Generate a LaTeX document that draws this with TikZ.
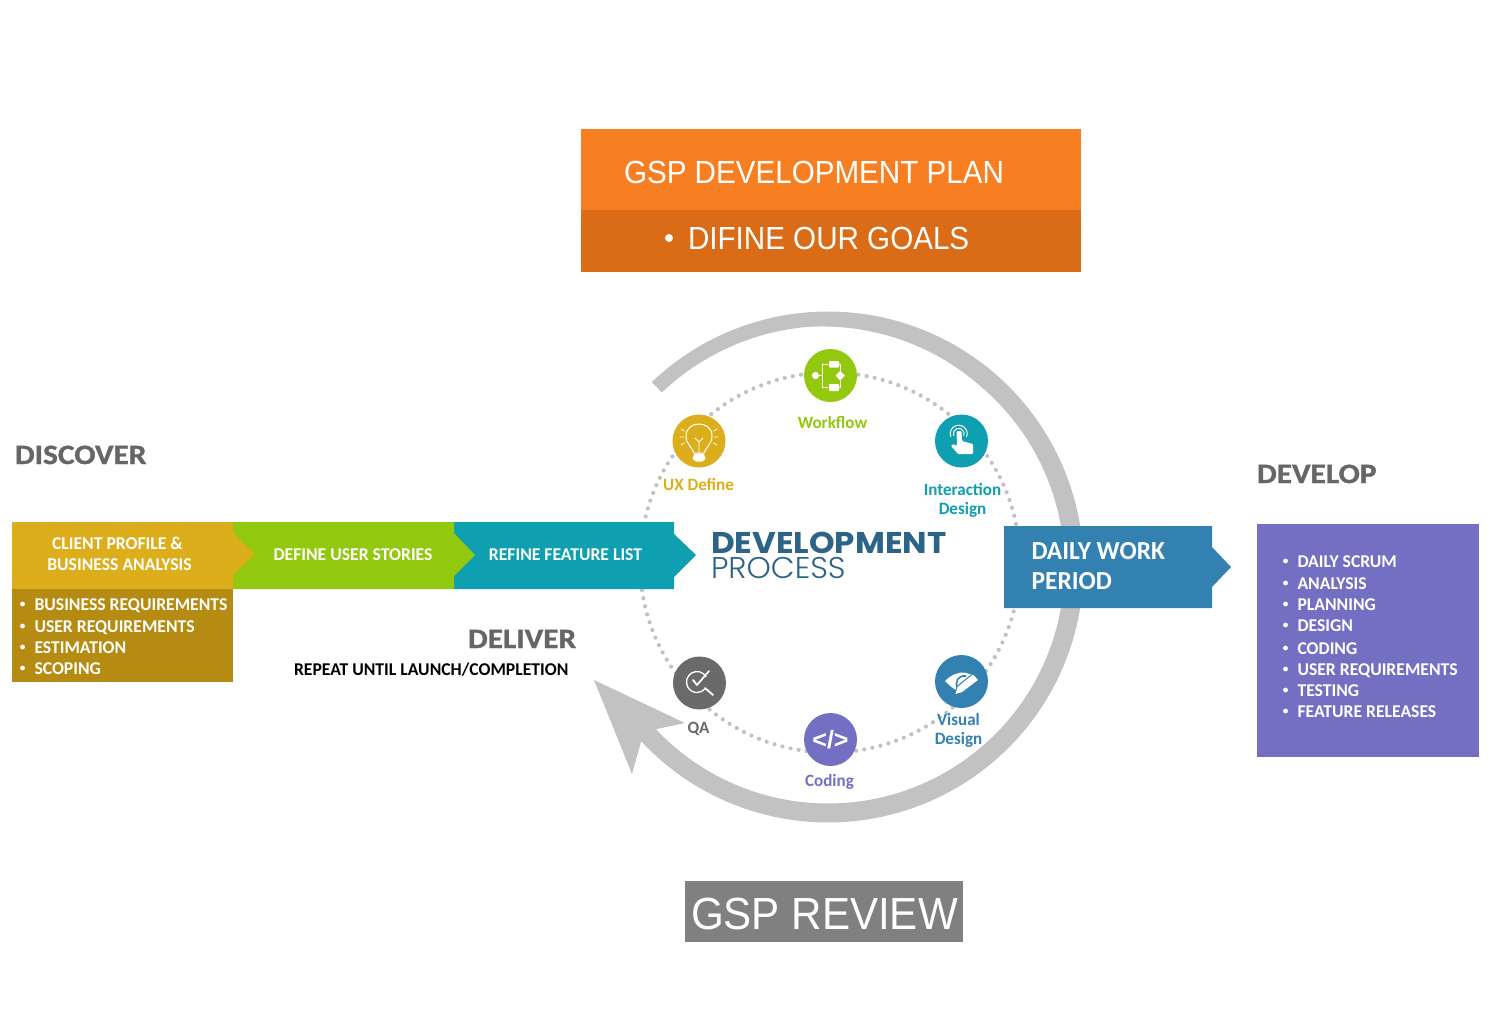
\documentclass[tikz,border=0pt]{standalone}
\usepackage{fontspec}
\setmainfont{Carlito}[BoldFeatures={FakeStretch=0.98}]
\newfontfamily\arl{Liberation Sans}[FakeStretch=0.925]
\newfontfamily\arr{Liberation Sans}[FakeStretch=0.936]
\newfontfamily\arb{Liberation Sans}[BoldFeatures={FakeStretch=1.0}]
\newfontfamily\headf{Carlito}[BoldFeatures={FakeBold=1.2,FakeStretch=1.12}]
\newfontfamily\lblf{Carlito}[BoldFeatures={FakeStretch=0.985}]
\newfontfamily\devf{Poppins}[BoldFeatures={FakeStretch=1.086}]
\newfontfamily\procf{Poppins}[UprightFont=* Light,FakeStretch=1.03]
\usetikzlibrary{shapes.geometric}
\definecolor{cgold}{HTML}{DDAE1C}
\definecolor{cgoldd}{HTML}{B58C11}
\definecolor{cgreen}{HTML}{92C90E}
\definecolor{cteal}{HTML}{0E9FB1}
\definecolor{cblue}{HTML}{3281B1}
\definecolor{cpurple}{HTML}{7370C3}
\definecolor{cgray}{HTML}{6A6A6A}
\definecolor{corange}{HTML}{F77F21}
\definecolor{corangd}{HTML}{DA6B17}
\definecolor{crev}{HTML}{808080}
\definecolor{carc}{HTML}{C2C2C2}
\definecolor{cnavy}{HTML}{2C6487}
\definecolor{chead}{HTML}{666666}
\tikzset{
  base/.style={inner sep=0pt,outer sep=0pt,anchor=base},
  basew/.style={inner sep=0pt,outer sep=0pt,anchor=base west},
  wlab/.style={base,text=white,font=\fontsize{18}{18}\selectfont\bfseries},
  wlabw/.style={basew,text=white,font=\fontsize{18}{18}\selectfont\bfseries},
  ring/.style={circle,minimum size=53pt,inner sep=0pt},
  clab/.style={base,font=\lblf\fontsize{17.3}{17.3}\selectfont\bfseries},
  headt/.style={basew,text=chead,font=\headf\fontsize{28}{28}\selectfont\bfseries},
  ico/.style={draw=white,line width=1.2pt,fill=none,line cap=round,line join=round},
}
\newcommand{\blt}[5]{% name, bullet x, text x, y baseline, text
  \fill[white] (#2,#4-6) circle (2.4);
  \node[wlabw] (#1) at (#3,#4) {#5};}
\begin{document}
\begin{tikzpicture}[x=1pt,y=-1pt]
\useasboundingbox (0,0) rectangle (1490,1012);
\fill[white] (0,0) rectangle (1490,1012);
% dotted ring
\draw[carc,line width=4.2pt,line cap=round,dash pattern=on 0pt off 8.25pt] (830,562.5) circle (190);
% big arrow arc
\fill[carc] plot[domain=133.6:-137,samples=160] ({828+255.5*cos(\x)},{567-255.5*sin(\x)})
  -- (632,774) -- (594,680) -- (685,723) -- (652,730)
  -- plot[domain=-137:133.6,samples=160] ({828+(236.5+4.5*min(1,max(0,(\x-50)/45)))*cos(\x)},{567-(236.5+4.5*min(1,max(0,(\x-50)/45)))*sin(\x)}) -- cycle;
% top plan
\fill[corange] (581,129) rectangle (1081,210);
\fill[corangd] (581,210) rectangle (1081,272);
\node[basew,text=white,font=\arl\fontsize{32}{32}\selectfont] (plan) at (624,183) {GSP DEVELOPMENT PLAN};
\fill[white] (669,238) circle (4);
\node[basew,text=white,font=\arl\fontsize{32}{32}\selectfont] (goals) at (688,249) {DIFINE OUR GOALS};
% review
\fill[crev] (685,881) rectangle (963,942);
\node[basew,text=white,font=\arr\fontsize{45}{45}\selectfont] (review) at (691,929) {GSP REVIEW};
% chevrons
\fill[cteal] (454,522) -- (674,522) -- (674,534) -- (696,555) -- (674,577) -- (674,589) -- (454,589) -- cycle;
\fill[cgreen] (233,522) -- (454,522) -- (454,533) -- (475,555) -- (454,576) -- (454,589) -- (233,589) -- cycle;
\fill[cgold] (12,522) -- (233,522) -- (233,533) -- (255,554) -- (233,575) -- (233,589) -- (12,589) -- cycle;
\fill[cgoldd] (12,589) rectangle (233,682);
\node[wlab] (client) at (117.5,549) {CLIENT PROFILE \&};
\node[wlab] (busan) at (119.5,570) {BUSINESS ANALYSIS};
\node[wlab] (stories) at (353,560) {DEFINE USER STORIES};
\node[wlab] (refine) at (565.5,560) {REFINE FEATURE LIST};
\blt{l1}{22.5}{34.5}{610}{BUSINESS REQUIREMENTS}
\blt{l2}{22.5}{34.5}{632}{USER REQUIREMENTS}
\blt{l3}{22.5}{34.5}{653}{ESTIMATION}
\blt{l4}{22.5}{34.5}{674}{SCOPING}
% headings
\node[headt] (discover) at (15,464) {DISCOVER};
\node[headt] (develop) at (1257,483) {DEVELOP};
\node[headt] (deliver) at (468,648) {DELIVER};
\node[basew,text=black,font=\fontsize{18}{18}\selectfont\bfseries] (repeat) at (294,675) {REPEAT UNTIL LAUNCH/COMPLETION};
% centre title
\node[basew,text=cnavy,font=\devf\fontsize{30}{30}\selectfont\bfseries] (devt) at (711,553) {DEVELOPMENT};
\node[basew,text=cnavy,font=\procf\fontsize{30}{30}\selectfont] (proc) at (711,578) {PROCESS};
% daily work
\fill[cblue] (1004,526) -- (1212,526) -- (1212,547) -- (1231,567) -- (1212,587) -- (1212,608) -- (1004,608) -- cycle;
\node[basew,text=white,font=\fontsize{26}{26}\selectfont\bfseries] (daily) at (1031.5,559) {DAILY WORK};
\node[basew,text=white,font=\fontsize{26}{26}\selectfont\bfseries] (period) at (1031.5,589) {PERIOD};
% develop list
\fill[cpurple] (1257,524) rectangle (1479,757);
\blt{d1}{1285.5}{1297.5}{567}{DAILY SCRUM}
\blt{d2}{1285.5}{1297.5}{589}{ANALYSIS}
\blt{d3}{1285.5}{1297.5}{610}{PLANNING}
\blt{d4}{1285.5}{1297.5}{631}{DESIGN}
\blt{d5}{1285.5}{1297.5}{654}{CODING}
\blt{d6}{1285.5}{1297.5}{675}{USER REQUIREMENTS}
\blt{d7}{1285.5}{1297.5}{696}{TESTING}
\blt{d8}{1285.5}{1297.5}{717}{FEATURE RELEASES}
% rings
\node[ring,fill=cgreen] (wf) at (830.5,375.5) {};
\node[ring,fill=cgold] (ux) at (699,441) {};
\node[ring,fill=cteal] (ix) at (961.5,441) {};
\node[ring,fill=cgray] (qa) at (699.5,683) {};
\node[ring,fill=cpurple] (cd) at (830.5,739.5) {};
\node[ring,fill=cblue] (vd) at (961.5,681.5) {};
% ring labels
\node[clab,text=cgreen] (wfl) at (832.5,428) {Workflow};
\node[clab,text=cgold] (uxl) at (698.5,490) {UX Define};
\node[clab,text=cteal] (ixl) at (962.5,495) {Interaction};
\node[clab,text=cteal] (ixl2) at (962.5,514.5) {Design};
\node[clab,text=cgray] (qal) at (698.5,733) {QA};
\node[clab,text=cpurple] (cdl) at (829.5,786) {Coding};
\node[clab,text=cblue] (vdl) at (958.5,725) {Visual};
\node[clab,text=cblue] (vdl2) at (958.5,744.5) {Design};
% workflow icon
\fill[white] (815.5,375.5) circle (3.6);
\draw[ico,line width=.8pt] (819,375.5) -- (822,375.5) (822,364) -- (822,387) (822,364) -- (828,364) (822,387) -- (828,387) (838,364) -- (840,364) -- (840,371) (838,387) -- (840,387) -- (840,381);
\fill[white,rounded corners=.8pt] (829,361) rectangle (839,367.5) (829,384) rectangle (839,391);
\fill[white] (840,371) -- (845,375.5) -- (840,380.5) -- (835.5,375.5) -- cycle;
% bulb icon
\draw[ico,line width=1pt] (694,453) .. controls (692,447) and (686,444) .. (686,436) .. controls (686,420) and (712,420) .. (712,436) .. controls (712,444) and (706,447) .. (704,453) -- cycle;
\draw[ico,line width=.8pt] (699,453) -- (699,442) (695,438) -- (699,442) -- (703,438);
\fill[white] (694,454) -- (704,454) -- (705.5,459) -- (702,461.5) -- (696,461.5) -- (692.5,459) -- cycle;
\draw[ico,line width=.7pt] (681,429) -- (684.5,431) (680,437) -- (684,437) (681,445) -- (684.5,443) (717,429) -- (713.5,431) (718,437) -- (714,437) (717,445) -- (713.5,443);
% touch icon
\draw[ico,line width=1pt] (953.6,435.5) arc (160:380:5.4) (950.7,436.6) arc (160:380:8.5);
\fill[white,rounded corners=1pt] (956.5,431) -- (961.5,431) -- (962,441) -- (973,444) -- (973,454) -- (958,454) -- (951,446) -- (953,444) -- (957,446) -- cycle;
% qa icon
\draw[ico,line width=1.3pt] (706.1,676.75) arc (-30:-320:10.5);
\draw[ico,line width=1.8pt] (693,680) -- (697,685) -- (709,671) (705,688) -- (713,695);
% code icon
\node[base,text=white,font=\arb\fontsize{25}{25}\selectfont\bfseries] (cdi) at (830.5,748) {</>};
% eye icon
\fill[white] (945,681) .. controls (951,675) and (958,672) .. (964,672.5) -- (973,675) -- (958,691) .. controls (953,689) and (949,685) .. (945,681) -- cycle;
\draw[cblue,line width=1.6pt] (958,689) .. controls (954,682) and (958,675) .. (966,676);
\draw[cblue,line width=1pt,fill=white,line join=round] (973,673.5) -- (979,680) -- (962.5,692.5) -- (954.5,695) -- (957,686.5) -- cycle;
\end{tikzpicture}
\end{document}
